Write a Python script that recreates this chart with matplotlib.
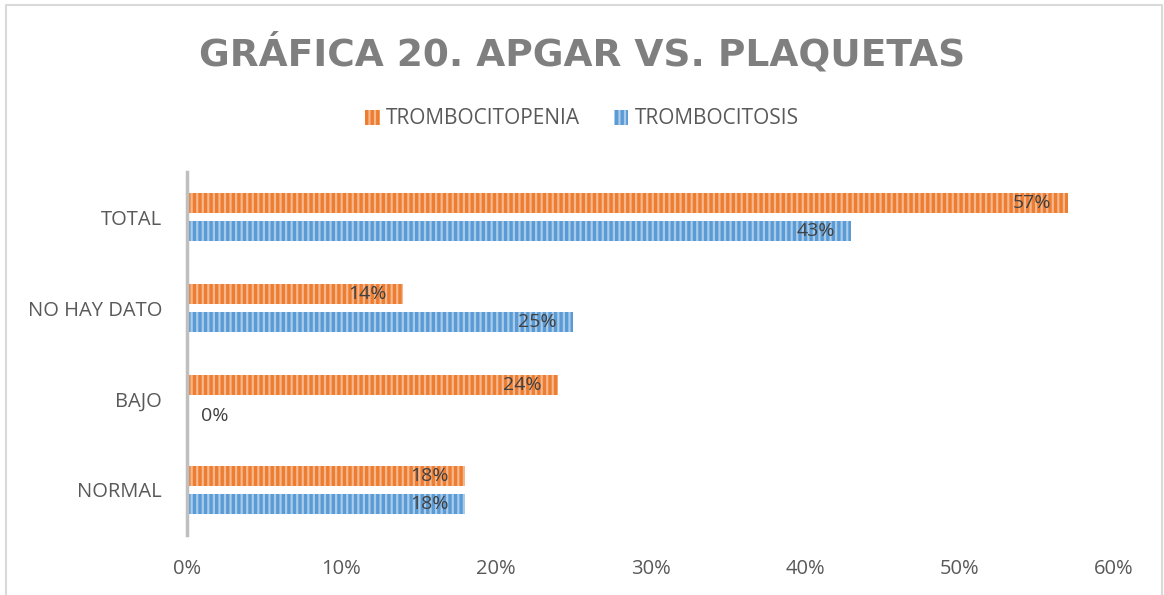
import matplotlib.pyplot as plt
import numpy as np

categories = ['NORMAL', 'BAJO', 'NO HAY DATO', 'TOTAL']
trombocitopenia = [18, 24, 14, 57]
trombocitosis = [18, 0, 25, 43]
xticks = [0, 10, 20, 30, 40, 50, 60]

plt.rcParams['font.family'] = ['Open Sans', 'DejaVu Sans']
plt.rcParams['hatch.linewidth'] = 1.6

fig = plt.figure(figsize=(11.64, 5.95), dpi=100)
ax = fig.add_axes([187 / 1164, 1 - 535 / 595, (1114 - 187) / 1164, (535 - 172) / 595])

y = np.arange(len(categories))
h = 0.22
off = 0.154
orange = '#ED7D31'
blue = '#5B9BD5'

b1 = ax.barh(y + off, trombocitopenia, height=h, color=orange, edgecolor='#F5B78E',
             linewidth=0, hatch='|||', label='TROMBOCITOPENIA')
b2 = ax.barh(y - off, trombocitosis, height=h, color=blue, edgecolor='#A9CBEA',
             linewidth=0, hatch='|||', label='TROMBOCITOSIS')

for bars, vals in ((b1, trombocitopenia), (b2, trombocitosis)):
    for bar, v in zip(bars, vals):
        yc = bar.get_y() + bar.get_height() / 2
        if v == 0:
            ax.annotate('%d%%' % v, (v, yc), xytext=(10, -2), textcoords='offset points',
                        ha='left', va='center', fontsize=14, color='#404040')
        else:
            ax.annotate('%d%%' % v, (v, yc), xytext=(-12, 0), textcoords='offset points',
                        ha='right', va='center', fontsize=14, color='#404040')

ax.set_xlim(0, 60)
ax.set_ylim(-0.5, 3.5)
ax.set_xticks(xticks)
ax.set_xticklabels(['%d%%' % t for t in xticks])
ax.set_yticks(y)
ax.set_yticklabels(categories)
ax.tick_params(axis='both', length=0, labelsize=14.5, labelcolor='#595959')
ax.tick_params(axis='x', pad=17)
ax.tick_params(axis='y', pad=18)
for s in ('top', 'right', 'bottom'):
    ax.spines[s].set_visible(False)
ax.spines['left'].set_color('#BFBFBF')
ax.spines['left'].set_linewidth(2.5)

fig.text(0.5, 1 - 53 / 595, 'GRÁFICA 20. APGAR VS. PLAQUETAS', ha='center', va='center',
         fontsize=27, fontweight='bold', color='#7F7F7F', family=['DejaVu Sans'])

leg = fig.legend(handles=[b1, b2], loc='center', bbox_to_anchor=(0.5, 1 - 119 / 595),
                 ncol=2, frameon=False, fontsize=15, handlelength=0.7, handleheight=0.7,
                 columnspacing=1.6, handletextpad=0.3)
for t in leg.get_texts():
    t.set_color('#595959')

# chart frame
fig.add_artist(plt.Line2D([6 / 1164, 6 / 1164, 1162 / 1164, 1162 / 1164],
                          [0, 1 - 5 / 595, 1 - 5 / 595, 0],
                          transform=fig.transFigure, color='#D9D9D9', lw=1.5))

fig.savefig('out.png', dpi=100)
